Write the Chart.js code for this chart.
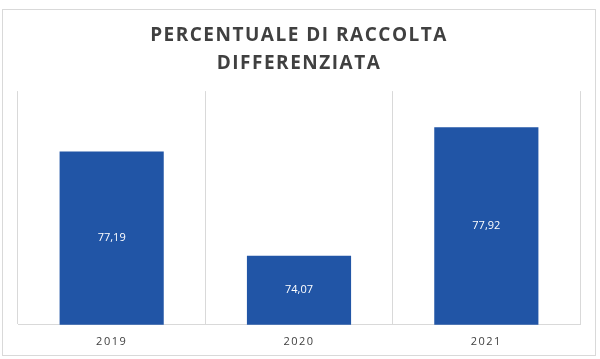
<!DOCTYPE html>
<html>
<head>
<meta charset="utf-8">
<script src="https://cdn.jsdelivr.net/npm/chart.js@4/dist/chart.umd.min.js"></script>
<style>
  html, body { margin: 0; padding: 0; background: #ffffff; }
  #wrap { width: 600px; height: 359px; }
</style>
</head>
<body>
<div id="wrap"><canvas id="grafico" width="600" height="359"></canvas></div>
<script>
// dati del grafico
const anni = ["2019", "2020", "2021"];
const percentuali = [77.19, 74.07, 77.92];
const titolo = ["PERCENTUALE DI RACCOLTA", "DIFFERENZIATA"];

// bordo esterno e spaziatura lettere
const cornice = {
  id: "cornice",
  beforeDraw(chart) {
    const ctx = chart.ctx;
    ctx.save();
    ctx.strokeStyle = "#d9d9d9";
    ctx.lineWidth = 1;
    ctx.strokeRect(2.5, 9.5, 593, 346);
    ctx.restore();
    ctx.letterSpacing = "1.5px";
  }
};

// etichette dentro le barre (la base vera e' fuori dall'area, si usa il fondo visibile)
const etichette = {
  id: "etichette",
  afterDraw(chart) {
    const ctx = chart.ctx;
    const meta = chart.getDatasetMeta(0);
    const fondo = chart.chartArea.bottom;
    ctx.save();
    ctx.letterSpacing = "0px";
    ctx.fillStyle = "#ffffff";
    ctx.font = "11px 'Open Sans', sans-serif";
    ctx.textAlign = "center";
    ctx.textBaseline = "middle";
    meta.data.forEach((barra, i) => {
      const p = barra.getProps(["x", "y", "base"], true);
      const y = (p.y + Math.min(p.base, fondo)) / 2;
      ctx.fillText(percentuali[i].toFixed(2).replace(".", ","), p.x, y);
    });
    ctx.restore();
  }
};

new Chart(document.getElementById("grafico"), {
  type: "bar",
  data: {
    labels: anni,
    datasets: [
      {
        data: percentuali,
        backgroundColor: "#2155a6",
        barPercentage: 1,
        categoryPercentage: 0.556
      }
    ]
  },
  options: {
    responsive: false,
    animation: false,
    events: [],
    layout: { padding: { left: 18, right: 20, top: 10, bottom: 1 } },
    plugins: {
      legend: { display: false },
      tooltip: { enabled: false },
      title: {
        display: true,
        text: titolo,
        color: "#404040",
        font: { family: "'Open Sans', sans-serif", size: 19, weight: "bold", lineHeight: 1.45 },
        padding: { top: 12, bottom: 14 }
      }
    },
    scales: {
      x: {
        grid: { offset: true, color: "#d9d9d9", drawTicks: false },
        border: { color: "#d9d9d9" },
        ticks: {
          color: "#404040",
          padding: 10,
          font: { family: "'Open Sans', sans-serif", size: 11 }
        }
      },
      y: {
        display: false,
        min: 72,
        max: 79
      }
    }
  },
  plugins: [cornice, etichette]
});
</script>
</body>
</html>
